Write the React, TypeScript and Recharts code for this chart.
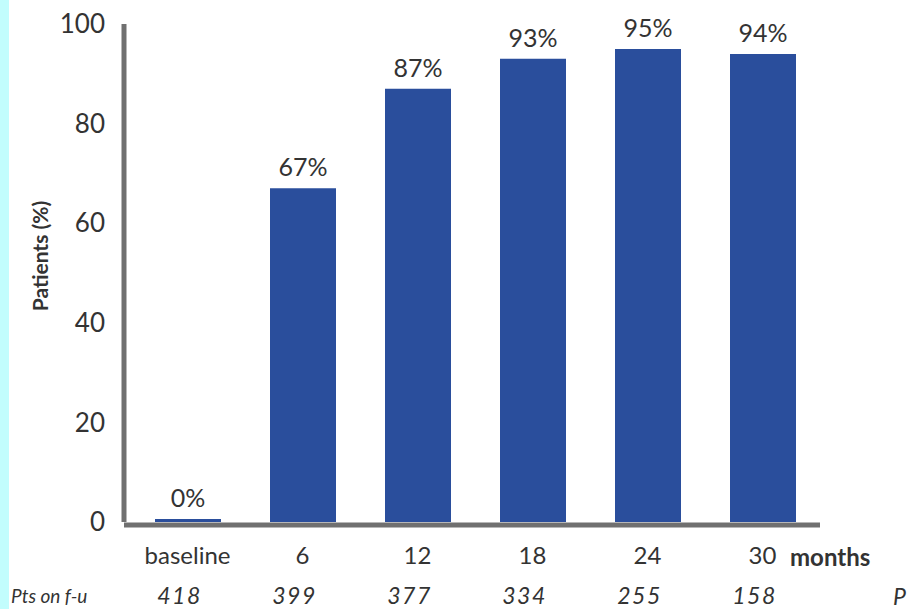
import { BarChart, Bar, XAxis, YAxis, LabelList } from 'recharts'

// follow-up visits and share of responders
const months = ['baseline', '6', '12', '18', '24', '30']
const responders = [0, 67, 87, 93, 95, 94]
const ptsOnFollowUp = [418, 399, 377, 334, 255, 158]
const yTicks = [0, 20, 40, 60, 80, 100]

const data = months.map((m, i) => ({ month: m, value: responders[i], pts: ptsOnFollowUp[i] }))

const FONT = 'Lato, "Open Sans", sans-serif'
const TEXT = '#333333'
const AXIS = '#707070'

function MonthTick(props: any) {
    const { x, y, payload, index } = props
    return (
        <g>
            <text x={x} y={y + 42} textAnchor="middle" fill={TEXT} fontSize={24} fontFamily={FONT}>
                {payload.value}
            </text>
            <text
                x={x - 8}
                y={y + 82}
                textAnchor="middle"
                fill={TEXT}
                fontSize={23}
                fontStyle="italic"
                letterSpacing={1.5}
                fontFamily={FONT}
            >
                {ptsOnFollowUp[index]}
            </text>
        </g>
    )
}

function YLabel() {
    return (
        <text
            transform="translate(48,256) rotate(-90)"
            textAnchor="middle"
            fill={TEXT}
            fontSize={21}
            fontWeight="bold"
            fontFamily={FONT}
        >
            Patients (%)
        </text>
    )
}

export default function App() {
    return (
        <div
            style={{
                position: 'fixed',
                top: 0,
                left: 0,
                width: 907,
                height: 609,
                background: '#ffffff',
                overflow: 'hidden',
                fontFamily: FONT,
            }}
        >
            <div style={{ position: 'absolute', left: 0, top: 0, width: 9, height: 609, background: '#c2fdfd' }} />
            <BarChart width={907} height={609} data={data} margin={{ top: 24, right: 87, bottom: 7, left: 0 }}>
                <XAxis
                    dataKey="month"
                    height={80}
                    interval={0}
                    padding={{ left: 6, right: 0 }}
                    axisLine={{ stroke: AXIS, strokeWidth: 5, transform: 'translate(0,3)' }}
                    tickLine={false}
                    tickSize={0}
                    tickMargin={0}
                    tick={<MonthTick />}
                />
                <YAxis
                    width={124}
                    domain={[0, 100]}
                    ticks={yTicks}
                    axisLine={{ stroke: AXIS, strokeWidth: 5 }}
                    tickLine={false}
                    tickSize={0}
                    tickMargin={19}
                    tick={{ fill: TEXT, fontSize: 26, fontFamily: FONT }}
                    label={<YLabel />}
                />
                <Bar dataKey="value" fill="#2a4e9c" barSize={66} minPointSize={3} isAnimationActive={false}>
                    <LabelList
                        dataKey="value"
                        position="top"
                        offset={12}
                        formatter={(v: any) => `${v}%`}
                        fill={TEXT}
                        fontSize={25}
                        fontFamily={FONT}
                    />
                </Bar>
            </BarChart>
            <div style={{ position: 'absolute', left: 790, top: 542, fontSize: 24, fontWeight: 'bold', color: TEXT }}>
                months
            </div>
            <div style={{ position: 'absolute', left: 11, top: 584, fontSize: 19, fontStyle: 'italic', color: TEXT }}>
                Pts on f-u
            </div>
            <div style={{ position: 'absolute', left: 893, top: 582, fontSize: 23, fontStyle: 'italic', color: TEXT }}>
                P
            </div>
        </div>
    )
}
